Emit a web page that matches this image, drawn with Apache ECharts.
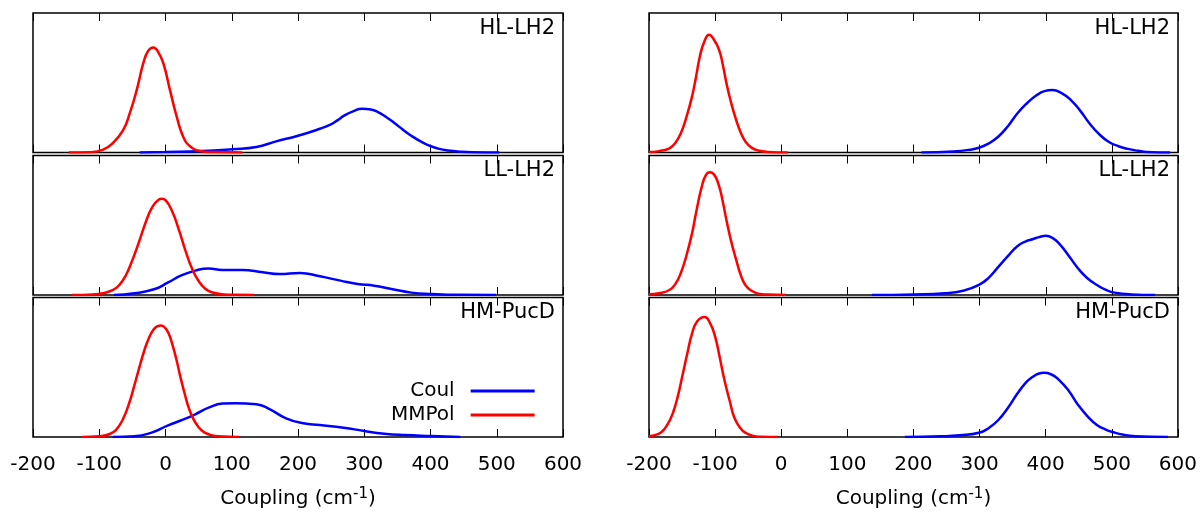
<!DOCTYPE html>
<html>
<head>
<meta charset="utf-8">
<script src="https://cdn.jsdelivr.net/npm/echarts@6/dist/echarts.min.js"></script>
<style>
html,body{margin:0;padding:0;background:#fff;}
#chart{width:1200px;height:512px;}
</style>
</head>
<body>
<div id="chart"></div>
<script>
// ---- data (x = coupling in cm^-1, y = normalised density) ----
const panelLabels = ['HL-LH2', 'LL-LH2', 'HM-PucD'];
const xTicks = [-200, -100, 0, 100, 200, 300, 400, 500, 600];

// left column
const leftHL_Coul = [[-39,0],[0,0.003],[55,0.01],[101,0.024],[137,0.04],[167,0.08],[200,0.12],[233,0.17],[249,0.2],[260,0.232],[269,0.262],[283,0.295],[297,0.313],[310,0.308],[320,0.292],[333,0.255],[346,0.21],[358,0.165],[371,0.12],[385,0.08],[399,0.048],[413,0.026],[427,0.014],[445,0.006],[463,0.002],[504,0]];
const leftHL_MMPol = [[-146,0],[-114,0.002],[-94,0.02],[-79,0.07],[-64,0.16],[-54,0.28],[-43.5,0.447],[-33.5,0.64],[-26,0.73],[-18.4,0.753],[-11,0.72],[-3.3,0.64],[6.8,0.447],[17,0.255],[27,0.11],[37,0.045],[52,0.011],[67,0.003],[116,0]];
const leftLL_Coul = [[-78,0],[-47,0.012],[-16,0.043],[4,0.09],[24,0.14],[45,0.175],[65,0.19],[86,0.18],[116,0.18],[147,0.163],[172,0.15],[203,0.158],[233,0.134],[264,0.103],[290,0.079],[315,0.067],[341,0.043],[371,0.017],[402,0.007],[443,0.001],[499,0]];
const leftLL_MMPol = [[-141,0],[-110,0.004],[-95,0.012],[-80,0.035],[-70,0.07],[-60,0.14],[-50,0.25],[-40,0.38],[-30,0.52],[-20,0.63],[-10,0.685],[-6,0.69],[0,0.68],[10,0.6],[20,0.47],[30,0.32],[40,0.19],[50,0.1],[60,0.045],[70,0.02],[85,0.006],[105,0.001],[134,0]];
const leftHM_Coul = [[-80,0],[-47,0.005],[-22,0.03],[4,0.084],[24,0.12],[45,0.163],[65,0.21],[86,0.24],[106,0.242],[137,0.235],[157,0.2],[182,0.134],[208,0.098],[233,0.086],[269,0.067],[300,0.043],[330,0.024],[361,0.014],[402,0.007],[445,0]];
const leftHM_MMPol = [[-126,0],[-100,0.005],[-85,0.02],[-75,0.05],[-65,0.12],[-55,0.24],[-47,0.37],[-40,0.49],[-32,0.62],[-25,0.71],[-18,0.77],[-12,0.795],[-7,0.8],[-2,0.79],[4,0.75],[10,0.67],[17,0.545],[23,0.42],[29,0.31],[35,0.21],[42,0.13],[50,0.07],[58,0.035],[68,0.015],[80,0.005],[111,0]];

// right column
const rightHL_Coul = [[212,0],[260,0.008],[285,0.02],[299,0.034],[314,0.065],[328,0.113],[343,0.19],[357,0.28],[372,0.355],[386,0.41],[398,0.44],[410,0.448],[424,0.425],[438,0.376],[452,0.3],[466,0.21],[480,0.135],[495,0.077],[510,0.045],[524,0.026],[540,0.012],[553,0.004],[588,0]];
const rightHL_MMPol = [[-200,0.003],[-185,0.01],[-169,0.03],[-160,0.07],[-152,0.137],[-143,0.26],[-135,0.40],[-129,0.54],[-123,0.69],[-116,0.80],[-109,0.844],[-102,0.81],[-94,0.736],[-88,0.62],[-83,0.50],[-76,0.36],[-68,0.23],[-61,0.14],[-54,0.077],[-45,0.035],[-35,0.014],[-20,0.004],[10,0]];
const rightLL_Coul = [[137,0],[200,0.004],[247,0.012],[275,0.03],[299,0.072],[314,0.125],[328,0.2],[343,0.28],[357,0.35],[370,0.385],[380,0.40],[390,0.415],[400,0.424],[410,0.41],[420,0.37],[435,0.28],[449,0.19],[463,0.12],[478,0.07],[491,0.037],[504,0.017],[530,0.004],[565,0]];
const rightLL_MMPol = [[-200,0.005],[-185,0.012],[-169,0.036],[-160,0.08],[-152,0.156],[-143,0.29],[-135,0.44],[-128,0.61],[-120,0.78],[-114,0.86],[-108,0.88],[-101,0.86],[-94,0.78],[-88,0.66],[-83,0.54],[-76,0.39],[-68,0.25],[-61,0.14],[-54,0.07],[-45,0.03],[-35,0.01],[-20,0.003],[7,0]];
const rightHM_Coul = [[187,0],[240,0.005],[270,0.012],[299,0.03],[314,0.065],[328,0.12],[343,0.21],[357,0.31],[370,0.39],[380,0.43],[390,0.455],[397,0.46],[408,0.45],[420,0.41],[435,0.33],[449,0.23],[463,0.15],[478,0.084],[490,0.055],[501,0.036],[518,0.016],[536,0.006],[585,0]];
const rightHM_MMPol = [[-200,0.005],[-190,0.015],[-181,0.036],[-172,0.09],[-164,0.17],[-156,0.3],[-149,0.45],[-142,0.6],[-135,0.74],[-127,0.83],[-116,0.86],[-108,0.82],[-100,0.72],[-93,0.57],[-86,0.41],[-78,0.26],[-71,0.14],[-62,0.065],[-54,0.03],[-44,0.01],[-30,0.002],[-5,0]];

const panelData = [
  [leftHL_Coul, leftHL_MMPol], [rightHL_Coul, rightHL_MMPol],
  [leftLL_Coul, leftLL_MMPol], [rightLL_Coul, rightLL_MMPol],
  [leftHM_Coul, leftHM_MMPol], [rightHM_Coul, rightHM_MMPol]
];

// ---- layout ----
const FONT = 'DejaVu Sans';
const rowTops = [13, 155.5, 297.5];
const rowH = 139.5;
const colLefts = [33, 649];
const colWidths = [530, 529];
const labelRight = [645, 30];

const grids = [], xAxes = [], yAxes = [], series = [], titles = [];
let gi = 0;
for (let r = 0; r < 3; r++) {
  for (let c = 0; c < 2; c++) {
    grids.push({
      left: colLefts[c], top: rowTops[r], width: colWidths[c], height: rowH,
      show: true, borderColor: '#000', borderWidth: 1.5, backgroundColor: 'transparent',
      containLabel: false
    });
    const bottomRow = r === 2;
    const baseAxis = {
      type: 'value', gridIndex: gi, min: xTicks[0], max: xTicks[xTicks.length - 1], interval: 100,
      axisLine: { show: false },
      axisTick: { show: true, inside: true, length: 8, lineStyle: { color: '#000', width: 1 } },
      splitLine: { show: false }
    };
    xAxes.push(Object.assign({}, baseAxis, {
      position: 'bottom',
      axisLabel: {
        show: bottomRow, color: '#000', fontFamily: FONT, fontSize: 20, margin: 18,
        showMinLabel: true, showMaxLabel: true
      },
      name: bottomRow ? '{a|Coupling (cm}{s|-1}{a|)}' : '',
      nameLocation: 'middle',
      nameGap: 50,
      nameTextStyle: {
        rich: {
          a: { fontFamily: FONT, fontSize: 20, color: '#000', lineHeight: 24 },
          s: { fontFamily: FONT, fontSize: 15, color: '#000', verticalAlign: 'top', lineHeight: 15 }
        }
      }
    }));
    xAxes.push(Object.assign({}, baseAxis, {
      position: 'top',
      axisLabel: { show: false }
    }));
    yAxes.push({ type: 'value', gridIndex: gi, min: 0, max: 1, show: false });
    const [coul, mmpol] = panelData[gi];
    series.push({
      name: 'Coul', type: 'line', xAxisIndex: gi * 2, yAxisIndex: gi, data: coul,
      smooth: 0.5, showSymbol: false, symbol: 'none',
      lineStyle: { color: '#0000ff', width: 2.5 }, itemStyle: { color: '#0000ff' },
      silent: true, animation: false
    });
    series.push({
      name: 'MMPol', type: 'line', xAxisIndex: gi * 2, yAxisIndex: gi, data: mmpol,
      smooth: 0.5, showSymbol: false, symbol: 'none',
      lineStyle: { color: '#ff0000', width: 2.5 }, itemStyle: { color: '#ff0000' },
      silent: true, animation: false
    });
    titles.push({
      text: panelLabels[r], right: labelRight[c], top: rowTops[r] + 5, padding: 0,
      textStyle: { fontFamily: FONT, fontSize: 21, fontWeight: 'normal', color: '#000' }
    });
    gi++;
  }
}

const chart = echarts.init(document.getElementById('chart'), null, { renderer: 'canvas' });
chart.setOption({
  animation: false,
  backgroundColor: '#fff',
  title: titles,
  grid: grids,
  xAxis: xAxes,
  yAxis: yAxes,
  legend: {
    data: ['Coul', 'MMPol'],
    orient: 'vertical', align: 'right', selectedMode: false,
    left: 391, top: 381, padding: 0, itemGap: 4,
    icon: 'rect', itemWidth: 64, itemHeight: 3,
    textStyle: { fontFamily: FONT, fontSize: 20, color: '#000', padding: [0, 11, 0, 0] }
  },
  series: series
});
</script>
</body>
</html>
